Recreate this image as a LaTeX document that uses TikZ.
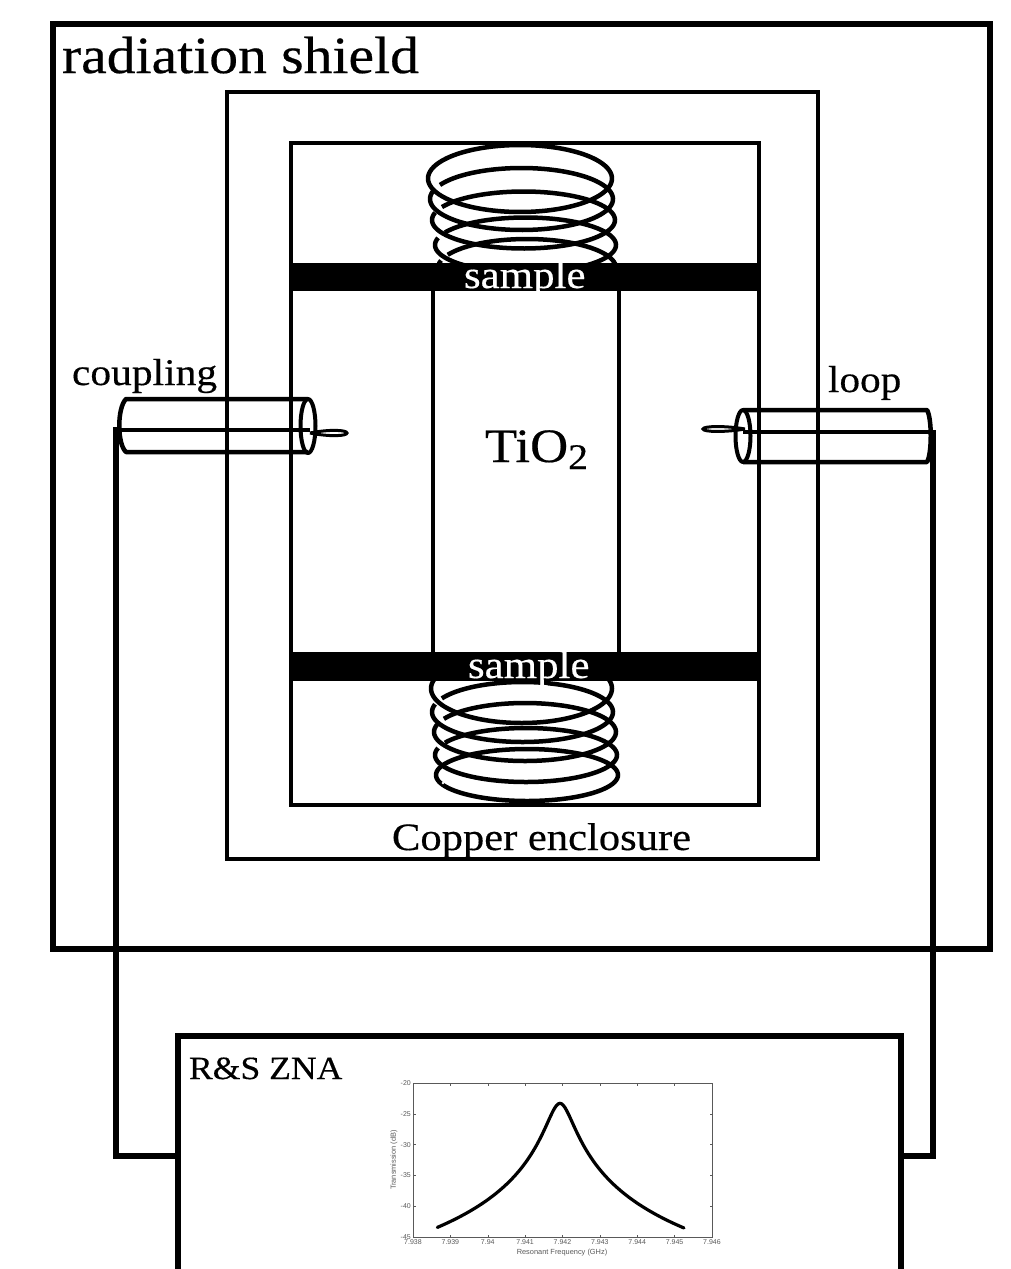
\documentclass[tikz,border=0pt]{standalone}
\usepackage{fontspec}
\setmainfont[FakeStretch=1.1,FakeBold=0.4]{Liberation Serif}
\newfontfamily\plotfont{Liberation Sans}
\newcommand{\fsz}[1]{\fontsize{#1}{#1}\selectfont}
\definecolor{plotgray}{gray}{0.35}
\tikzset{
  wall/.style={draw=black,line width=#1,fill=none},
  coilline/.style={draw=black,line width=4.5pt},
  band/.style={fill=black,draw=none},
  rodline/.style={draw=black,line width=4pt},
  coaxline/.style={draw=black,line width=4.5pt,line join=round},
  cableline/.style={draw=black,line width=6.5pt,line join=miter},
  lbl/.style={anchor=base west,inner sep=0pt,outer sep=0pt,text=#1},
  lbl/.default=black,
  tickx/.style={anchor=north,inner sep=0pt,text=plotgray,font=\plotfont\fsz{7}},
  ticky/.style={anchor=east,inner sep=0pt,text=plotgray,font=\plotfont\fsz{7}},
  axtitle/.style={inner sep=0pt,text=plotgray,font=\plotfont\fsz{7.4}}
}
\begin{document}
\begin{tikzpicture}[x=1pt,y=-1pt]
\useasboundingbox (0,0) rectangle (1011,1269);
% enclosures
\draw[wall=6pt] (53,24) rectangle (990,949);
\draw[wall=4.5pt] (227,92) rectangle (818,859);
\draw[wall=4pt] (291,143) rectangle (759,805);
% coils: one nearly closed turn each
\begin{scope}
\clip (400,130) rectangle (640,275);
\foreach \cx/\cy/\rx/\ry/\a/\b in {
  520/178.5/92/33.5/180/540,
  521.5/199/91.5/31/207/555,
  523.5/220/91.5/28.5/207/555,
  525.5/245/90.5/27.5/207/555,
  527/268/89/29/207/555}{
  \draw[coilline] plot[smooth,domain=\a:\b,samples=90,variable=\t]
    ({\cx+\rx*cos(\t)},{\cy+\ry*sin(\t)});
}
\end{scope}
\begin{scope}
\clip (400,665) rectangle (640,810);
\foreach \cx/\cy/\rx/\ry/\a/\b in {
  521.5/688.5/90.5/34.5/207/555,
  522.5/712/90.5/30/207/555,
  525/732/91/29/207/555,
  526/755/91/27/207/555,
  527/775/91/26/190/550}{
  \draw[coilline] plot[smooth,domain=\a:\b,samples=90,variable=\t]
    ({\cx+\rx*cos(\t)},{\cy+\ry*sin(\t)});
}
\end{scope}
\fill[white] (443,783) circle (1.4);
% sample bands
\fill[band] (289,263) rectangle (759,291);
\fill[band] (289,652) rectangle (761,681);
% rod
\draw[rodline] (433,291) -- (433,652);
\draw[rodline] (619,291) -- (619,652);
% labels
\node[lbl] (shield) at (62,73) {\fsz{52.4}radiation shield};
\node[lbl] (coupling) at (72,385) {\fsz{37.7}coupling};
\node[lbl] (loop) at (828,392) {\fsz{37.5}loop};
\node[lbl] (tio) at (485,462) {\fsz{48}TiO\raisebox{-7pt}{\fsz{36}2}};
\node[lbl] (copper) at (392,850) {\fsz{38.7}Copper enclosure};
\node[lbl] (zna) at (189,1079) {\fsz{32.4}R\&S ZNA};
\node[lbl=white] (sampleA) at (464,288) {\fsz{39}sample};
\node[lbl=white] (sampleB) at (468,678) {\fsz{39}sample};
% left coax
\draw[coaxline] (308,399) -- (126,399) .. controls (117,408) and (117,444) .. (126,452) -- (308,452);
\draw[coaxline,line width=4pt] (308,426) ellipse (7.5 and 27);
\draw[line width=3pt] (310,433) .. controls (330,429) and (347,430) .. (347,433) .. controls (347,436) and (330,437) .. (310,433);
% right coax
\draw[coaxline] (743,410) -- (927,410) .. controls (932,418) and (932,454) .. (927,462) -- (743,462);
\draw[coaxline,line width=4pt] (743,436) ellipse (7.5 and 26);
\draw[line width=3pt] (745,429) .. controls (725,425.5) and (703,426) .. (703,429) .. controls (703,432) and (725,432.5) .. (745,429);
% instrument
\coordinate (znaL) at (178,1156);
\coordinate (znaR) at (901,1156);
\draw[wall=6pt] (178,1290) -- (178,1036) -- (901,1036) -- (901,1290);
% cables
\coordinate (coupL) at (116,430);
\coordinate (coupR) at (933,432);
\draw[line width=4pt] (coupL) -- (310,430);
\draw[line width=4pt] (coupR) -- (743,432);
\draw[cableline] (116,427) |- (znaL);
\draw[cableline] (933,430) |- (znaR);
% plot
\draw[plotgray,line width=.6pt] (413,1083) rectangle (712,1237);
\foreach \v [count=\i from 0] in {7.938,7.939,7.94,7.941,7.942,7.943,7.944,7.945,7.946}{
  \pgfmathsetmacro{\xx}{413+\i*37.375}
  \draw[plotgray,line width=.5pt] (\xx,1237) -- (\xx,1234.5) (\xx,1083) -- (\xx,1085.5);
  \node[tickx] (xt\i) at (\xx,1239) {\v};
}
\foreach \v [count=\i from 0] in {-20,-25,-30,-35,-40,-45}{
  \pgfmathsetmacro{\yy}{1083+\i*30.8}
  \draw[plotgray,line width=.5pt] (413,\yy) -- (415.5,\yy) (712,\yy) -- (709.5,\yy);
  \node[ticky] (yt\i) at (411,\yy) {\v};
}
\node[axtitle] (xlab) at (562,1253) {Resonant Frequency (GHz)};
\node[axtitle,rotate=90] (ylab) at (394,1160) {Transmission (dB)};
\begin{scope}[shift={(380,1070)},x=.3333pt,y=-.3333pt]
\draw[line width=3.2pt,line cap=round] plot[smooth,domain=172:912,samples=150,variable=\u]
  ({\u},{100+184*log10(1+((\u-540)/36)*((\u-540)/36))});
\end{scope}
\end{tikzpicture}
\end{document}
